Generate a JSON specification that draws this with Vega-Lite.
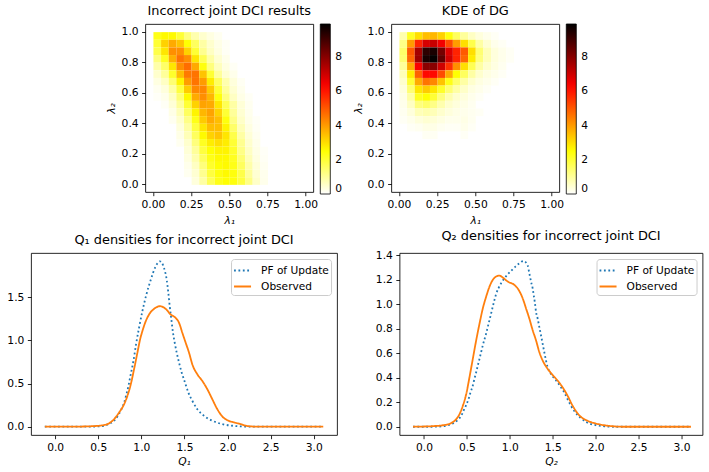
{
  "$schema": "https://vega.github.io/schema/vega-lite/v6.json",
  "background": "white",
  "padding": {"left": 6, "top": 4, "right": 3, "bottom": 3},
  "datasets": {
    "dci": [
      {"x":0.025,"y":0.975,"v":2.3},{"x":0.075,"y":0.975,"v":2.6},{"x":0.125,"y":0.975,"v":2.6},{"x":0.175,"y":0.975,"v":2.0},{"x":0.225,"y":0.975,"v":1.3},{"x":0.275,"y":0.975,"v":0.8},{"x":0.325,"y":0.975,"v":0.5},{"x":0.375,"y":0.975,"v":0.3},{"x":0.425,"y":0.975,"v":0.15},
      {"x":0.025,"y":0.925,"v":2.0},{"x":0.075,"y":0.925,"v":3.2},{"x":0.125,"y":0.925,"v":3.8},{"x":0.175,"y":0.925,"v":3.4},{"x":0.225,"y":0.925,"v":2.5},{"x":0.275,"y":0.925,"v":1.6},{"x":0.325,"y":0.925,"v":0.9},{"x":0.375,"y":0.925,"v":0.5},{"x":0.425,"y":0.925,"v":0.25},{"x":0.475,"y":0.925,"v":0.1},
      {"x":0.025,"y":0.875,"v":1.8},{"x":0.075,"y":0.875,"v":2.9},{"x":0.125,"y":0.875,"v":4.2},{"x":0.175,"y":0.875,"v":4.2},{"x":0.225,"y":0.875,"v":3.2},{"x":0.275,"y":0.875,"v":2.0},{"x":0.325,"y":0.875,"v":1.1},{"x":0.375,"y":0.875,"v":0.6},{"x":0.425,"y":0.875,"v":0.3},{"x":0.475,"y":0.875,"v":0.1},
      {"x":0.025,"y":0.825,"v":1.3},{"x":0.075,"y":0.825,"v":2.2},{"x":0.125,"y":0.825,"v":3.7},{"x":0.175,"y":0.825,"v":4.6},{"x":0.225,"y":0.825,"v":4.2},{"x":0.275,"y":0.825,"v":2.9},{"x":0.325,"y":0.825,"v":1.7},{"x":0.375,"y":0.825,"v":0.9},{"x":0.425,"y":0.825,"v":0.45},{"x":0.475,"y":0.825,"v":0.2},
      {"x":0.025,"y":0.775,"v":0.85},{"x":0.075,"y":0.775,"v":1.5},{"x":0.125,"y":0.775,"v":2.9},{"x":0.175,"y":0.775,"v":4.2},{"x":0.225,"y":0.775,"v":4.7},{"x":0.275,"y":0.775,"v":3.8},{"x":0.325,"y":0.775,"v":2.4},{"x":0.375,"y":0.775,"v":1.3},{"x":0.425,"y":0.775,"v":0.65},{"x":0.475,"y":0.775,"v":0.3},{"x":0.525,"y":0.775,"v":0.1},
      {"x":0.025,"y":0.725,"v":0.5},{"x":0.075,"y":0.725,"v":1.0},{"x":0.125,"y":0.725,"v":2.1},{"x":0.175,"y":0.725,"v":3.5},{"x":0.225,"y":0.725,"v":4.5},{"x":0.275,"y":0.725,"v":4.6},{"x":0.325,"y":0.725,"v":3.4},{"x":0.375,"y":0.725,"v":2.0},{"x":0.425,"y":0.725,"v":1.0},{"x":0.475,"y":0.725,"v":0.45},{"x":0.525,"y":0.725,"v":0.2},
      {"x":0.025,"y":0.675,"v":0.3},{"x":0.075,"y":0.675,"v":0.6},{"x":0.125,"y":0.675,"v":1.4},{"x":0.175,"y":0.675,"v":2.7},{"x":0.225,"y":0.675,"v":4.0},{"x":0.275,"y":0.675,"v":4.6},{"x":0.325,"y":0.675,"v":4.0},{"x":0.375,"y":0.675,"v":2.8},{"x":0.425,"y":0.675,"v":1.6},{"x":0.475,"y":0.675,"v":0.8},{"x":0.525,"y":0.675,"v":0.35},{"x":0.575,"y":0.675,"v":0.12},
      {"x":0.025,"y":0.625,"v":0.15},{"x":0.075,"y":0.625,"v":0.35},{"x":0.125,"y":0.625,"v":0.9},{"x":0.175,"y":0.625,"v":1.9},{"x":0.225,"y":0.625,"v":3.3},{"x":0.275,"y":0.625,"v":4.3},{"x":0.325,"y":0.625,"v":4.3},{"x":0.375,"y":0.625,"v":3.3},{"x":0.425,"y":0.625,"v":2.0},{"x":0.475,"y":0.625,"v":1.0},{"x":0.525,"y":0.625,"v":0.45},{"x":0.575,"y":0.625,"v":0.18},
      {"x":0.025,"y":0.575,"v":0.08},{"x":0.075,"y":0.575,"v":0.2},{"x":0.125,"y":0.575,"v":0.6},{"x":0.175,"y":0.575,"v":1.4},{"x":0.225,"y":0.575,"v":2.6},{"x":0.275,"y":0.575,"v":3.8},{"x":0.325,"y":0.575,"v":4.2},{"x":0.375,"y":0.575,"v":3.6},{"x":0.425,"y":0.575,"v":2.4},{"x":0.475,"y":0.575,"v":1.3},{"x":0.525,"y":0.575,"v":0.6},{"x":0.575,"y":0.575,"v":0.25},{"x":0.625,"y":0.575,"v":0.1},
      {"x":0.075,"y":0.525,"v":0.1},{"x":0.125,"y":0.525,"v":0.4},{"x":0.175,"y":0.525,"v":1.0},{"x":0.225,"y":0.525,"v":2.0},{"x":0.275,"y":0.525,"v":3.2},{"x":0.325,"y":0.525,"v":3.9},{"x":0.375,"y":0.525,"v":3.8},{"x":0.425,"y":0.525,"v":2.9},{"x":0.475,"y":0.525,"v":1.7},{"x":0.525,"y":0.525,"v":0.9},{"x":0.575,"y":0.525,"v":0.4},{"x":0.625,"y":0.525,"v":0.15},
      {"x":0.125,"y":0.475,"v":0.25},{"x":0.175,"y":0.475,"v":0.7},{"x":0.225,"y":0.475,"v":1.6},{"x":0.275,"y":0.475,"v":2.7},{"x":0.325,"y":0.475,"v":3.6},{"x":0.375,"y":0.475,"v":3.9},{"x":0.425,"y":0.475,"v":3.2},{"x":0.475,"y":0.475,"v":2.0},{"x":0.525,"y":0.475,"v":1.0},{"x":0.575,"y":0.475,"v":0.45},{"x":0.625,"y":0.475,"v":0.18},
      {"x":0.125,"y":0.425,"v":0.15},{"x":0.175,"y":0.425,"v":0.5},{"x":0.225,"y":0.425,"v":1.2},{"x":0.275,"y":0.425,"v":2.3},{"x":0.325,"y":0.425,"v":3.3},{"x":0.375,"y":0.425,"v":3.8},{"x":0.425,"y":0.425,"v":3.5},{"x":0.475,"y":0.425,"v":2.4},{"x":0.525,"y":0.425,"v":1.2},{"x":0.575,"y":0.425,"v":0.55},{"x":0.625,"y":0.425,"v":0.22},{"x":0.675,"y":0.425,"v":0.08},
      {"x":0.175,"y":0.375,"v":0.35},{"x":0.225,"y":0.375,"v":0.9},{"x":0.275,"y":0.375,"v":1.9},{"x":0.325,"y":0.375,"v":2.9},{"x":0.375,"y":0.375,"v":3.5},{"x":0.425,"y":0.375,"v":3.5},{"x":0.475,"y":0.375,"v":2.7},{"x":0.525,"y":0.375,"v":1.5},{"x":0.575,"y":0.375,"v":0.7},{"x":0.625,"y":0.375,"v":0.3},{"x":0.675,"y":0.375,"v":0.1},
      {"x":0.175,"y":0.325,"v":0.25},{"x":0.225,"y":0.325,"v":0.7},{"x":0.275,"y":0.325,"v":1.6},{"x":0.325,"y":0.325,"v":2.6},{"x":0.375,"y":0.325,"v":3.2},{"x":0.425,"y":0.325,"v":3.4},{"x":0.475,"y":0.325,"v":2.9},{"x":0.525,"y":0.325,"v":1.8},{"x":0.575,"y":0.325,"v":0.9},{"x":0.625,"y":0.325,"v":0.4},{"x":0.675,"y":0.325,"v":0.15},
      {"x":0.175,"y":0.275,"v":0.15},{"x":0.225,"y":0.275,"v":0.5},{"x":0.275,"y":0.275,"v":1.3},{"x":0.325,"y":0.275,"v":2.2},{"x":0.375,"y":0.275,"v":2.8},{"x":0.425,"y":0.275,"v":3.0},{"x":0.475,"y":0.275,"v":2.8},{"x":0.525,"y":0.275,"v":2.0},{"x":0.575,"y":0.275,"v":1.1},{"x":0.625,"y":0.275,"v":0.5},{"x":0.675,"y":0.275,"v":0.2},
      {"x":0.225,"y":0.225,"v":0.4},{"x":0.275,"y":0.225,"v":1.0},{"x":0.325,"y":0.225,"v":1.9},{"x":0.375,"y":0.225,"v":2.5},{"x":0.425,"y":0.225,"v":2.7},{"x":0.475,"y":0.225,"v":2.7},{"x":0.525,"y":0.225,"v":2.1},{"x":0.575,"y":0.225,"v":1.2},{"x":0.625,"y":0.225,"v":0.6},{"x":0.675,"y":0.225,"v":0.25},{"x":0.725,"y":0.225,"v":0.08},
      {"x":0.225,"y":0.175,"v":0.3},{"x":0.275,"y":0.175,"v":0.8},{"x":0.325,"y":0.175,"v":1.6},{"x":0.375,"y":0.175,"v":2.3},{"x":0.425,"y":0.175,"v":2.6},{"x":0.475,"y":0.175,"v":2.6},{"x":0.525,"y":0.175,"v":2.2},{"x":0.575,"y":0.175,"v":1.4},{"x":0.625,"y":0.175,"v":0.7},{"x":0.675,"y":0.175,"v":0.3},{"x":0.725,"y":0.175,"v":0.1},
      {"x":0.225,"y":0.125,"v":0.2},{"x":0.275,"y":0.125,"v":0.6},{"x":0.325,"y":0.125,"v":1.3},{"x":0.375,"y":0.125,"v":2.1},{"x":0.425,"y":0.125,"v":2.5},{"x":0.475,"y":0.125,"v":2.6},{"x":0.525,"y":0.125,"v":2.3},{"x":0.575,"y":0.125,"v":1.6},{"x":0.625,"y":0.125,"v":0.85},{"x":0.675,"y":0.125,"v":0.38},{"x":0.725,"y":0.125,"v":0.14},
      {"x":0.225,"y":0.075,"v":0.15},{"x":0.275,"y":0.075,"v":0.45},{"x":0.325,"y":0.075,"v":1.1},{"x":0.375,"y":0.075,"v":1.9},{"x":0.425,"y":0.075,"v":2.4},{"x":0.475,"y":0.075,"v":2.6},{"x":0.525,"y":0.075,"v":2.4},{"x":0.575,"y":0.075,"v":1.8},{"x":0.625,"y":0.075,"v":1.0},{"x":0.675,"y":0.075,"v":0.45},{"x":0.725,"y":0.075,"v":0.18},
      {"x":0.275,"y":0.025,"v":0.35},{"x":0.325,"y":0.025,"v":0.9},{"x":0.375,"y":0.025,"v":1.7},{"x":0.425,"y":0.025,"v":2.3},{"x":0.475,"y":0.025,"v":2.5},{"x":0.525,"y":0.025,"v":2.4},{"x":0.575,"y":0.025,"v":1.9},{"x":0.625,"y":0.025,"v":1.2},{"x":0.675,"y":0.025,"v":0.55},{"x":0.725,"y":0.025,"v":0.2}
    ],
    "dg": [
      {"x":0.025,"y":0.975,"v":0.8},{"x":0.075,"y":0.975,"v":2.2},{"x":0.125,"y":0.975,"v":3.0},{"x":0.175,"y":0.975,"v":3.5},{"x":0.225,"y":0.975,"v":3.6},{"x":0.275,"y":0.975,"v":3.2},{"x":0.325,"y":0.975,"v":2.4},{"x":0.375,"y":0.975,"v":1.6},{"x":0.425,"y":0.975,"v":1.0},{"x":0.475,"y":0.975,"v":0.6},{"x":0.525,"y":0.975,"v":0.35},{"x":0.575,"y":0.975,"v":0.2},{"x":0.625,"y":0.975,"v":0.1},
      {"x":0.025,"y":0.925,"v":1.2},{"x":0.075,"y":0.925,"v":4.0},{"x":0.125,"y":0.925,"v":5.8},{"x":0.175,"y":0.925,"v":6.9},{"x":0.225,"y":0.925,"v":7.1},{"x":0.275,"y":0.925,"v":6.5},{"x":0.325,"y":0.925,"v":5.2},{"x":0.375,"y":0.925,"v":4.0},{"x":0.425,"y":0.925,"v":3.0},{"x":0.475,"y":0.925,"v":1.8},{"x":0.525,"y":0.925,"v":0.9},{"x":0.575,"y":0.925,"v":0.45},{"x":0.625,"y":0.925,"v":0.2},{"x":0.675,"y":0.925,"v":0.1},
      {"x":0.025,"y":0.875,"v":1.5},{"x":0.075,"y":0.875,"v":5.0},{"x":0.125,"y":0.875,"v":7.6},{"x":0.175,"y":0.875,"v":9.3},{"x":0.225,"y":0.875,"v":9.6},{"x":0.275,"y":0.875,"v":8.3},{"x":0.325,"y":0.875,"v":6.8},{"x":0.375,"y":0.875,"v":5.8},{"x":0.425,"y":0.875,"v":5.0},{"x":0.475,"y":0.875,"v":3.0},{"x":0.525,"y":0.875,"v":1.4},{"x":0.575,"y":0.875,"v":0.7},{"x":0.625,"y":0.875,"v":0.35},{"x":0.675,"y":0.875,"v":0.2},{"x":0.725,"y":0.875,"v":0.1},
      {"x":0.025,"y":0.825,"v":1.4},{"x":0.075,"y":0.825,"v":4.8},{"x":0.125,"y":0.825,"v":7.7},{"x":0.175,"y":0.825,"v":9.6},{"x":0.225,"y":0.825,"v":9.9},{"x":0.275,"y":0.825,"v":8.6},{"x":0.325,"y":0.825,"v":7.0},{"x":0.375,"y":0.825,"v":5.8},{"x":0.425,"y":0.825,"v":4.8},{"x":0.475,"y":0.825,"v":2.8},{"x":0.525,"y":0.825,"v":1.3},{"x":0.575,"y":0.825,"v":0.7},{"x":0.625,"y":0.825,"v":0.35},{"x":0.675,"y":0.825,"v":0.2},{"x":0.725,"y":0.825,"v":0.1},
      {"x":0.025,"y":0.775,"v":1.0},{"x":0.075,"y":0.775,"v":3.8},{"x":0.125,"y":0.775,"v":6.4},{"x":0.175,"y":0.775,"v":8.0},{"x":0.225,"y":0.775,"v":8.0},{"x":0.275,"y":0.775,"v":7.0},{"x":0.325,"y":0.775,"v":5.6},{"x":0.375,"y":0.775,"v":4.2},{"x":0.425,"y":0.775,"v":3.0},{"x":0.475,"y":0.775,"v":1.7},{"x":0.525,"y":0.775,"v":0.9},{"x":0.575,"y":0.775,"v":0.5},{"x":0.625,"y":0.775,"v":0.3},{"x":0.675,"y":0.775,"v":0.15},
      {"x":0.025,"y":0.725,"v":0.7},{"x":0.075,"y":0.725,"v":2.8},{"x":0.125,"y":0.725,"v":4.9},{"x":0.175,"y":0.725,"v":6.2},{"x":0.225,"y":0.725,"v":6.2},{"x":0.275,"y":0.725,"v":5.2},{"x":0.325,"y":0.725,"v":3.8},{"x":0.375,"y":0.725,"v":2.5},{"x":0.425,"y":0.725,"v":1.6},{"x":0.475,"y":0.725,"v":0.9},{"x":0.525,"y":0.725,"v":0.5},{"x":0.575,"y":0.725,"v":0.3},{"x":0.625,"y":0.725,"v":0.2},{"x":0.675,"y":0.725,"v":0.1},
      {"x":0.025,"y":0.675,"v":0.5},{"x":0.075,"y":0.675,"v":2.0},{"x":0.125,"y":0.675,"v":3.8},{"x":0.175,"y":0.675,"v":4.6},{"x":0.225,"y":0.675,"v":4.3},{"x":0.275,"y":0.675,"v":3.4},{"x":0.325,"y":0.675,"v":2.3},{"x":0.375,"y":0.675,"v":1.5},{"x":0.425,"y":0.675,"v":0.9},{"x":0.475,"y":0.675,"v":0.5},{"x":0.525,"y":0.675,"v":0.3},{"x":0.575,"y":0.675,"v":0.2},{"x":0.625,"y":0.675,"v":0.1},
      {"x":0.025,"y":0.625,"v":0.35},{"x":0.075,"y":0.625,"v":1.4},{"x":0.125,"y":0.625,"v":2.9},{"x":0.175,"y":0.625,"v":3.3},{"x":0.225,"y":0.625,"v":2.9},{"x":0.275,"y":0.625,"v":2.1},{"x":0.325,"y":0.625,"v":1.4},{"x":0.375,"y":0.625,"v":0.9},{"x":0.425,"y":0.625,"v":0.55},{"x":0.475,"y":0.625,"v":0.3},{"x":0.525,"y":0.625,"v":0.2},{"x":0.575,"y":0.625,"v":0.1},
      {"x":0.025,"y":0.575,"v":0.25},{"x":0.075,"y":0.575,"v":0.9},{"x":0.125,"y":0.575,"v":2.2},{"x":0.175,"y":0.575,"v":2.5},{"x":0.225,"y":0.575,"v":2.0},{"x":0.275,"y":0.575,"v":1.3},{"x":0.325,"y":0.575,"v":0.8},{"x":0.375,"y":0.575,"v":0.5},{"x":0.425,"y":0.575,"v":0.35},{"x":0.475,"y":0.575,"v":0.2},{"x":0.525,"y":0.575,"v":0.1},
      {"x":0.025,"y":0.525,"v":0.2},{"x":0.075,"y":0.525,"v":0.6},{"x":0.125,"y":0.525,"v":1.3},{"x":0.175,"y":0.525,"v":1.5},{"x":0.225,"y":0.525,"v":1.2},{"x":0.275,"y":0.525,"v":0.8},{"x":0.325,"y":0.525,"v":0.5},{"x":0.375,"y":0.525,"v":0.35},{"x":0.425,"y":0.525,"v":0.25},{"x":0.475,"y":0.525,"v":0.15},
      {"x":0.025,"y":0.475,"v":0.15},{"x":0.075,"y":0.475,"v":0.35},{"x":0.125,"y":0.475,"v":0.7},{"x":0.175,"y":0.475,"v":0.8},{"x":0.225,"y":0.475,"v":0.7},{"x":0.275,"y":0.475,"v":0.5},{"x":0.325,"y":0.475,"v":0.35},{"x":0.375,"y":0.475,"v":0.25},{"x":0.425,"y":0.475,"v":0.2},{"x":0.475,"y":0.475,"v":0.15},{"x":0.525,"y":0.475,"v":0.1},
      {"x":0.025,"y":0.425,"v":0.1},{"x":0.075,"y":0.425,"v":0.2},{"x":0.125,"y":0.425,"v":0.35},{"x":0.175,"y":0.425,"v":0.45},{"x":0.225,"y":0.425,"v":0.4},{"x":0.275,"y":0.425,"v":0.3},{"x":0.325,"y":0.425,"v":0.2},{"x":0.375,"y":0.425,"v":0.2},{"x":0.425,"y":0.425,"v":0.25},{"x":0.475,"y":0.425,"v":0.15},
      {"x":0.075,"y":0.375,"v":0.1},{"x":0.125,"y":0.375,"v":0.15},{"x":0.175,"y":0.375,"v":0.25},{"x":0.225,"y":0.375,"v":0.25},{"x":0.275,"y":0.375,"v":0.15},{"x":0.325,"y":0.375,"v":0.1},{"x":0.375,"y":0.375,"v":0.1},{"x":0.425,"y":0.375,"v":0.2},{"x":0.475,"y":0.375,"v":0.1},
      {"x":0.175,"y":0.325,"v":0.12},{"x":0.225,"y":0.325,"v":0.12},{"x":0.425,"y":0.325,"v":0.1}
    ],
    "q1": [
      {"s":"PF of Update","x":-0.12,"y":0},{"s":"PF of Update","x":0.2,"y":0},{"s":"PF of Update","x":0.4,"y":0.001},{"s":"PF of Update","x":0.5,"y":0.004},{"s":"PF of Update","x":0.57,"y":0.012},{"s":"PF of Update","x":0.63,"y":0.035},{"s":"PF of Update","x":0.684,"y":0.069},{"s":"PF of Update","x":0.73,"y":0.13},{"s":"PF of Update","x":0.769,"y":0.203},{"s":"PF of Update","x":0.8,"y":0.28},{"s":"PF of Update","x":0.827,"y":0.376},{"s":"PF of Update","x":0.85,"y":0.47},{"s":"PF of Update","x":0.869,"y":0.569},{"s":"PF of Update","x":0.89,"y":0.67},{"s":"PF of Update","x":0.908,"y":0.761},{"s":"PF of Update","x":0.938,"y":0.953},{"s":"PF of Update","x":0.973,"y":1.145},{"s":"PF of Update","x":1.012,"y":1.338},{"s":"PF of Update","x":1.058,"y":1.53},{"s":"PF of Update","x":1.109,"y":1.7},{"s":"PF of Update","x":1.166,"y":1.857},{"s":"PF of Update","x":1.215,"y":1.915},{"s":"PF of Update","x":1.263,"y":1.837},{"s":"PF of Update","x":1.294,"y":1.7},{"s":"PF of Update","x":1.313,"y":1.549},{"s":"PF of Update","x":1.329,"y":1.396},{"s":"PF of Update","x":1.348,"y":1.241},{"s":"PF of Update","x":1.367,"y":1.088},{"s":"PF of Update","x":1.387,"y":0.972},{"s":"PF of Update","x":1.41,"y":0.857},{"s":"PF of Update","x":1.437,"y":0.742},{"s":"PF of Update","x":1.468,"y":0.626},{"s":"PF of Update","x":1.506,"y":0.511},{"s":"PF of Update","x":1.545,"y":0.396},{"s":"PF of Update","x":1.591,"y":0.3},{"s":"PF of Update","x":1.649,"y":0.203},{"s":"PF of Update","x":1.726,"y":0.127},{"s":"PF of Update","x":1.823,"y":0.069},{"s":"PF of Update","x":1.939,"y":0.03},{"s":"PF of Update","x":2.07,"y":0.01},{"s":"PF of Update","x":2.2,"y":0.002},{"s":"PF of Update","x":2.4,"y":0},{"s":"PF of Update","x":3.11,"y":0},
      {"s":"Observed","x":-0.12,"y":0},{"s":"Observed","x":0.2,"y":0.001},{"s":"Observed","x":0.35,"y":0.003},{"s":"Observed","x":0.45,"y":0.007},{"s":"Observed","x":0.53,"y":0.013},{"s":"Observed","x":0.607,"y":0.03},{"s":"Observed","x":0.684,"y":0.088},{"s":"Observed","x":0.742,"y":0.165},{"s":"Observed","x":0.8,"y":0.261},{"s":"Observed","x":0.838,"y":0.357},{"s":"Observed","x":0.877,"y":0.49},{"s":"Observed","x":0.915,"y":0.665},{"s":"Observed","x":0.954,"y":0.857},{"s":"Observed","x":0.985,"y":1.01},{"s":"Observed","x":1.012,"y":1.107},{"s":"Observed","x":1.051,"y":1.222},{"s":"Observed","x":1.089,"y":1.299},{"s":"Observed","x":1.147,"y":1.364},{"s":"Observed","x":1.217,"y":1.395},{"s":"Observed","x":1.282,"y":1.364},{"s":"Observed","x":1.34,"y":1.299},{"s":"Observed","x":1.398,"y":1.26},{"s":"Observed","x":1.437,"y":1.203},{"s":"Observed","x":1.475,"y":1.088},{"s":"Observed","x":1.514,"y":0.972},{"s":"Observed","x":1.553,"y":0.857},{"s":"Observed","x":1.591,"y":0.722},{"s":"Observed","x":1.649,"y":0.607},{"s":"Observed","x":1.707,"y":0.53},{"s":"Observed","x":1.765,"y":0.434},{"s":"Observed","x":1.823,"y":0.318},{"s":"Observed","x":1.881,"y":0.203},{"s":"Observed","x":1.939,"y":0.119},{"s":"Observed","x":1.997,"y":0.076},{"s":"Observed","x":2.074,"y":0.05},{"s":"Observed","x":2.151,"y":0.03},{"s":"Observed","x":2.22,"y":0.01},{"s":"Observed","x":2.3,"y":0.002},{"s":"Observed","x":2.5,"y":0},{"s":"Observed","x":3.11,"y":0}
    ],
    "q2": [
      {"s":"PF of Update","x":-0.128,"y":0},{"s":"PF of Update","x":0.1,"y":0},{"s":"PF of Update","x":0.2,"y":0.003},{"s":"PF of Update","x":0.279,"y":0.012},{"s":"PF of Update","x":0.345,"y":0.03},{"s":"PF of Update","x":0.395,"y":0.057},{"s":"PF of Update","x":0.434,"y":0.09},{"s":"PF of Update","x":0.461,"y":0.131},{"s":"PF of Update","x":0.492,"y":0.177},{"s":"PF of Update","x":0.519,"y":0.226},{"s":"PF of Update","x":0.542,"y":0.281},{"s":"PF of Update","x":0.569,"y":0.336},{"s":"PF of Update","x":0.588,"y":0.391},{"s":"PF of Update","x":0.608,"y":0.445},{"s":"PF of Update","x":0.627,"y":0.5},{"s":"PF of Update","x":0.647,"y":0.555},{"s":"PF of Update","x":0.666,"y":0.61},{"s":"PF of Update","x":0.685,"y":0.664},{"s":"PF of Update","x":0.705,"y":0.714},{"s":"PF of Update","x":0.724,"y":0.76},{"s":"PF of Update","x":0.743,"y":0.815},{"s":"PF of Update","x":0.763,"y":0.87},{"s":"PF of Update","x":0.782,"y":0.924},{"s":"PF of Update","x":0.801,"y":0.979},{"s":"PF of Update","x":0.821,"y":1.035},{"s":"PF of Update","x":0.84,"y":1.082},{"s":"PF of Update","x":0.867,"y":1.129},{"s":"PF of Update","x":0.898,"y":1.17},{"s":"PF of Update","x":0.937,"y":1.211},{"s":"PF of Update","x":0.976,"y":1.244},{"s":"PF of Update","x":1.014,"y":1.271},{"s":"PF of Update","x":1.065,"y":1.307},{"s":"PF of Update","x":1.111,"y":1.334},{"s":"PF of Update","x":1.161,"y":1.353},{"s":"PF of Update","x":1.208,"y":1.315},{"s":"PF of Update","x":1.227,"y":1.252},{"s":"PF of Update","x":1.247,"y":1.184},{"s":"PF of Update","x":1.266,"y":1.129},{"s":"PF of Update","x":1.278,"y":1.075},{"s":"PF of Update","x":1.293,"y":1.006},{"s":"PF of Update","x":1.305,"y":0.938},{"s":"PF of Update","x":1.324,"y":0.883},{"s":"PF of Update","x":1.343,"y":0.815},{"s":"PF of Update","x":1.363,"y":0.746},{"s":"PF of Update","x":1.382,"y":0.678},{"s":"PF of Update","x":1.401,"y":0.61},{"s":"PF of Update","x":1.421,"y":0.541},{"s":"PF of Update","x":1.44,"y":0.486},{"s":"PF of Update","x":1.467,"y":0.445},{"s":"PF of Update","x":1.506,"y":0.404},{"s":"PF of Update","x":1.556,"y":0.363},{"s":"PF of Update","x":1.595,"y":0.322},{"s":"PF of Update","x":1.634,"y":0.281},{"s":"PF of Update","x":1.672,"y":0.226},{"s":"PF of Update","x":1.711,"y":0.172},{"s":"PF of Update","x":1.76,"y":0.12},{"s":"PF of Update","x":1.82,"y":0.075},{"s":"PF of Update","x":1.9,"y":0.035},{"s":"PF of Update","x":2.0,"y":0.013},{"s":"PF of Update","x":2.1,"y":0.004},{"s":"PF of Update","x":2.2,"y":0},{"s":"PF of Update","x":3.11,"y":0},
      {"s":"Observed","x":-0.128,"y":0},{"s":"Observed","x":0.105,"y":0.005},{"s":"Observed","x":0.221,"y":0.012},{"s":"Observed","x":0.317,"y":0.03},{"s":"Observed","x":0.376,"y":0.062},{"s":"Observed","x":0.414,"y":0.103},{"s":"Observed","x":0.453,"y":0.172},{"s":"Observed","x":0.492,"y":0.267},{"s":"Observed","x":0.53,"y":0.404},{"s":"Observed","x":0.569,"y":0.555},{"s":"Observed","x":0.608,"y":0.705},{"s":"Observed","x":0.647,"y":0.842},{"s":"Observed","x":0.685,"y":0.965},{"s":"Observed","x":0.724,"y":1.061},{"s":"Observed","x":0.763,"y":1.143},{"s":"Observed","x":0.801,"y":1.198},{"s":"Observed","x":0.84,"y":1.225},{"s":"Observed","x":0.879,"y":1.233},{"s":"Observed","x":0.918,"y":1.217},{"s":"Observed","x":0.976,"y":1.184},{"s":"Observed","x":1.053,"y":1.157},{"s":"Observed","x":1.103,"y":1.116},{"s":"Observed","x":1.15,"y":1.047},{"s":"Observed","x":1.189,"y":0.965},{"s":"Observed","x":1.227,"y":0.883},{"s":"Observed","x":1.266,"y":0.788},{"s":"Observed","x":1.305,"y":0.705},{"s":"Observed","x":1.343,"y":0.61},{"s":"Observed","x":1.382,"y":0.541},{"s":"Observed","x":1.44,"y":0.473},{"s":"Observed","x":1.498,"y":0.423},{"s":"Observed","x":1.556,"y":0.377},{"s":"Observed","x":1.614,"y":0.322},{"s":"Observed","x":1.672,"y":0.254},{"s":"Observed","x":1.731,"y":0.172},{"s":"Observed","x":1.8,"y":0.1},{"s":"Observed","x":1.9,"y":0.05},{"s":"Observed","x":2.0,"y":0.027},{"s":"Observed","x":2.1,"y":0.012},{"s":"Observed","x":2.2,"y":0.004},{"s":"Observed","x":2.3,"y":0},{"s":"Observed","x":3.11,"y":0}
    ]
  },
  "vconcat": [
    {
      "hconcat": [
        {
          "title": "Incorrect joint DCI results",
          "width": 168,
          "height": 168,
          "data": {"name": "dci"},
          "mark": {"type": "rect"},
          "encoding": {
            "x": {"field": "x", "type": "quantitative", "bin": {"step": 0.05, "extent": [0, 1]}, "scale": {"domain": [-0.05, 1.05], "nice": false}, "axis": {"title": "λ₁", "values": [0, 0.25, 0.5, 0.75, 1], "format": ".2f", "titlePadding": 7}},
            "y": {"field": "y", "type": "quantitative", "bin": {"step": 0.05, "extent": [0, 1]}, "scale": {"domain": [-0.05, 1.05], "nice": false}, "axis": {"title": "λ₂", "values": [0, 0.2, 0.4, 0.6, 0.8, 1], "format": ".1f", "titlePadding": 5}},
            "color": {"field": "v", "type": "quantitative", "scale": {"type": "linear", "domain": [0, 2.53, 6.32, 9.95], "range": ["#ffffff", "#ffff00", "#ff0000", "#000000"], "interpolate": "rgb"}, "legend": {"type": "gradient", "direction": "vertical", "title": null, "values": [0, 2, 4, 6, 8], "gradientLength": 170, "gradientThickness": 10, "offset": 7.4, "gradientStrokeColor": "black", "gradientStrokeWidth": 0.8, "labelBaseline": "middle", "labelOffset": 5, "labelFontSize": 10.7}}
          }
        },
        {
          "title": "KDE of DG",
          "width": 168,
          "height": 168,
          "data": {"name": "dg"},
          "mark": {"type": "rect"},
          "encoding": {
            "x": {"field": "x", "type": "quantitative", "bin": {"step": 0.05, "extent": [0, 1]}, "scale": {"domain": [-0.05, 1.05], "nice": false}, "axis": {"title": "λ₁", "values": [0, 0.25, 0.5, 0.75, 1], "format": ".2f", "titlePadding": 7}},
            "y": {"field": "y", "type": "quantitative", "bin": {"step": 0.05, "extent": [0, 1]}, "scale": {"domain": [-0.05, 1.05], "nice": false}, "axis": {"title": "λ₂", "values": [0, 0.2, 0.4, 0.6, 0.8, 1], "format": ".1f", "titlePadding": 4}},
            "color": {"field": "v", "type": "quantitative", "scale": {"type": "linear", "domain": [0, 2.53, 6.32, 9.95], "range": ["#ffffff", "#ffff00", "#ff0000", "#000000"], "interpolate": "rgb"}, "legend": {"type": "gradient", "direction": "vertical", "title": null, "values": [0, 2, 4, 6, 8], "gradientLength": 170, "gradientThickness": 10, "offset": 7.4, "gradientStrokeColor": "black", "gradientStrokeWidth": 0.8, "labelBaseline": "middle", "labelOffset": 5, "labelFontSize": 10.7}}
          }
        }
      ],
      "spacing": 8,
      "resolve": {"scale": {"color": "independent"}, "legend": {"color": "independent"}}
    },
    {
      "hconcat": [
        {
          "title": "Q₁ densities for incorrect joint DCI",
          "width": 306,
          "height": 182,
          "data": {"name": "q1"},
          "mark": {"type": "line", "interpolate": "monotone", "strokeWidth": 1.8},
          "encoding": {
            "x": {"field": "x", "type": "quantitative", "scale": {"domain": [-0.28, 3.27], "nice": false, "zero": false}, "axis": {"title": "Q₁", "values": [0, 0.5, 1, 1.5, 2, 2.5, 3], "format": ".1f", "titlePadding": 5}},
            "y": {"field": "y", "type": "quantitative", "scale": {"domain": [-0.096, 2.011], "nice": false}, "axis": {"title": null, "values": [0, 0.5, 1, 1.5], "format": ".1f"}},
            "color": {"field": "s", "type": "nominal", "scale": {"domain": ["PF of Update", "Observed"], "range": ["#1f77b4", "#ff7f0e"]}, "legend": {"title": null, "orient": "top-right", "offset": 6, "symbolType": "stroke", "symbolSize": 289, "symbolStrokeWidth": 1.8, "labelFontSize": 10.6, "labelOffset": 9, "strokeColor": "#cccccc", "fillColor": "white", "cornerRadius": 3, "padding": 2, "rowPadding": -1.3}},
            "strokeDash": {"field": "s", "type": "nominal", "scale": {"domain": ["PF of Update", "Observed"], "range": [[1.8, 2.6], [1, 0]]}, "legend": {"title": null, "orient": "top-right", "offset": 6, "symbolType": "stroke", "symbolSize": 289, "symbolStrokeWidth": 1.8, "labelFontSize": 10.6, "labelOffset": 9, "strokeColor": "#cccccc", "fillColor": "white", "cornerRadius": 3, "padding": 2, "rowPadding": -1.3}}
          }
        },
        {
          "title": "Q₂ densities for incorrect joint DCI",
          "width": 303,
          "height": 182,
          "data": {"name": "q2"},
          "mark": {"type": "line", "interpolate": "monotone", "strokeWidth": 1.8},
          "encoding": {
            "x": {"field": "x", "type": "quantitative", "scale": {"domain": [-0.285, 3.245], "nice": false, "zero": false}, "axis": {"title": "Q₂", "values": [0, 0.5, 1, 1.5, 2, 2.5, 3], "format": ".1f", "titlePadding": 5}},
            "y": {"field": "y", "type": "quantitative", "scale": {"domain": [-0.0675, 1.4175], "nice": false}, "axis": {"title": null, "values": [0, 0.2, 0.4, 0.6, 0.8, 1, 1.2, 1.4], "format": ".1f"}},
            "color": {"field": "s", "type": "nominal", "scale": {"domain": ["PF of Update", "Observed"], "range": ["#1f77b4", "#ff7f0e"]}, "legend": {"title": null, "orient": "top-right", "offset": 6, "symbolType": "stroke", "symbolSize": 289, "symbolStrokeWidth": 1.8, "labelFontSize": 10.6, "labelOffset": 9, "strokeColor": "#cccccc", "fillColor": "white", "cornerRadius": 3, "padding": 2, "rowPadding": -1.3}},
            "strokeDash": {"field": "s", "type": "nominal", "scale": {"domain": ["PF of Update", "Observed"], "range": [[1.8, 2.6], [1, 0]]}, "legend": {"title": null, "orient": "top-right", "offset": 6, "symbolType": "stroke", "symbolSize": 289, "symbolStrokeWidth": 1.8, "labelFontSize": 10.6, "labelOffset": 9, "strokeColor": "#cccccc", "fillColor": "white", "cornerRadius": 3, "padding": 2, "rowPadding": -1.3}}
          }
        }
      ],
      "spacing": 36.5,
      "resolve": {"scale": {"x": "independent", "y": "independent", "color": "independent", "strokeDash": "independent"}, "legend": {"color": "independent", "strokeDash": "independent"}}
    }
  ],
  "spacing": 2,
  "center": true,
  "config": {
    "font": "DejaVu Sans",
    "view": {"stroke": "black", "strokeWidth": 0.85},
    "axis": {"grid": false, "domain": false, "tickColor": "black", "tickSize": 3.7, "tickWidth": 0.85, "labelColor": "black", "labelFontSize": 10.7, "labelPadding": 3.5, "labelFlush": false, "labelOverlap": false, "titleFontSize": 10.7, "titleFontWeight": "normal", "titleFontStyle": "italic", "titleColor": "black", "titlePadding": 4},
    "title": {"fontSize": 12.9, "fontWeight": "normal", "color": "black", "offset": 6.4, "baseline": "alphabetic"},
    "legend": {"labelColor": "black", "labelFont": "DejaVu Sans"}
  }
}
